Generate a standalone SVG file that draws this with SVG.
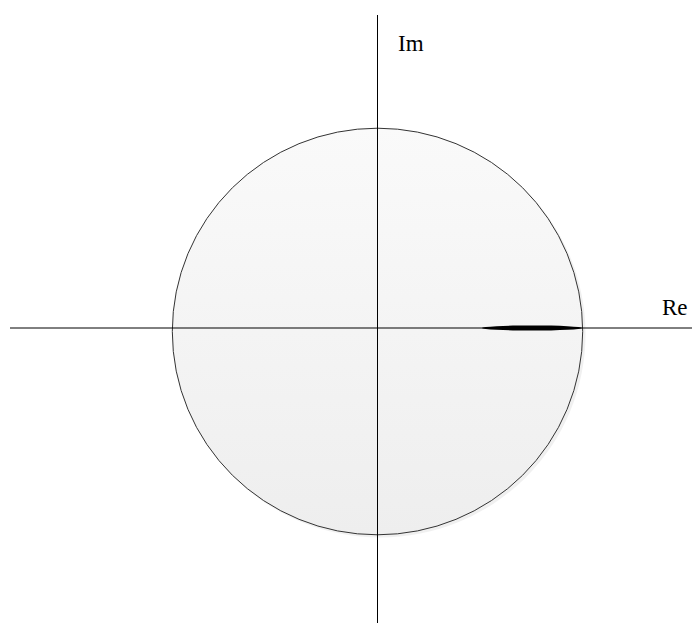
<svg xmlns="http://www.w3.org/2000/svg" width="695" height="634" viewBox="0 0 695 634">
<defs>
<linearGradient id="fill" x1="0" y1="0" x2="0" y2="1">
<stop offset="0" stop-color="#fafafa"/>
<stop offset="1" stop-color="#eeeeee"/>
</linearGradient>
<style>
.ax{stroke:#000;stroke-width:1;fill:none}
.lbl{font-family:"Liberation Serif",serif;font-size:23px;fill:#000}
</style>
</defs>
<rect width="695" height="634" fill="#fff"/>
<g id="circle">
<ellipse cx="380" cy="334" rx="205.5" ry="203.5" fill="#e6e6e6" opacity="0.6"/>
<ellipse cx="377.5" cy="331.5" rx="205.2" ry="203.3" fill="url(#fill)" stroke="#333" stroke-width="1"/>
</g>
<g id="connectors">
<line class="ax" x1="377.5" y1="15" x2="377.5" y2="623"/>
<line class="ax" x1="10" y1="328" x2="692" y2="328"/>
</g>
<g id="segment">
<ellipse cx="532" cy="328" rx="50" ry="2.6" fill="#000"/>
</g>
<g id="labels">
<text class="lbl" x="398" y="51">Im</text>
<text class="lbl" x="662" y="315">Re</text>
</g>
</svg>
